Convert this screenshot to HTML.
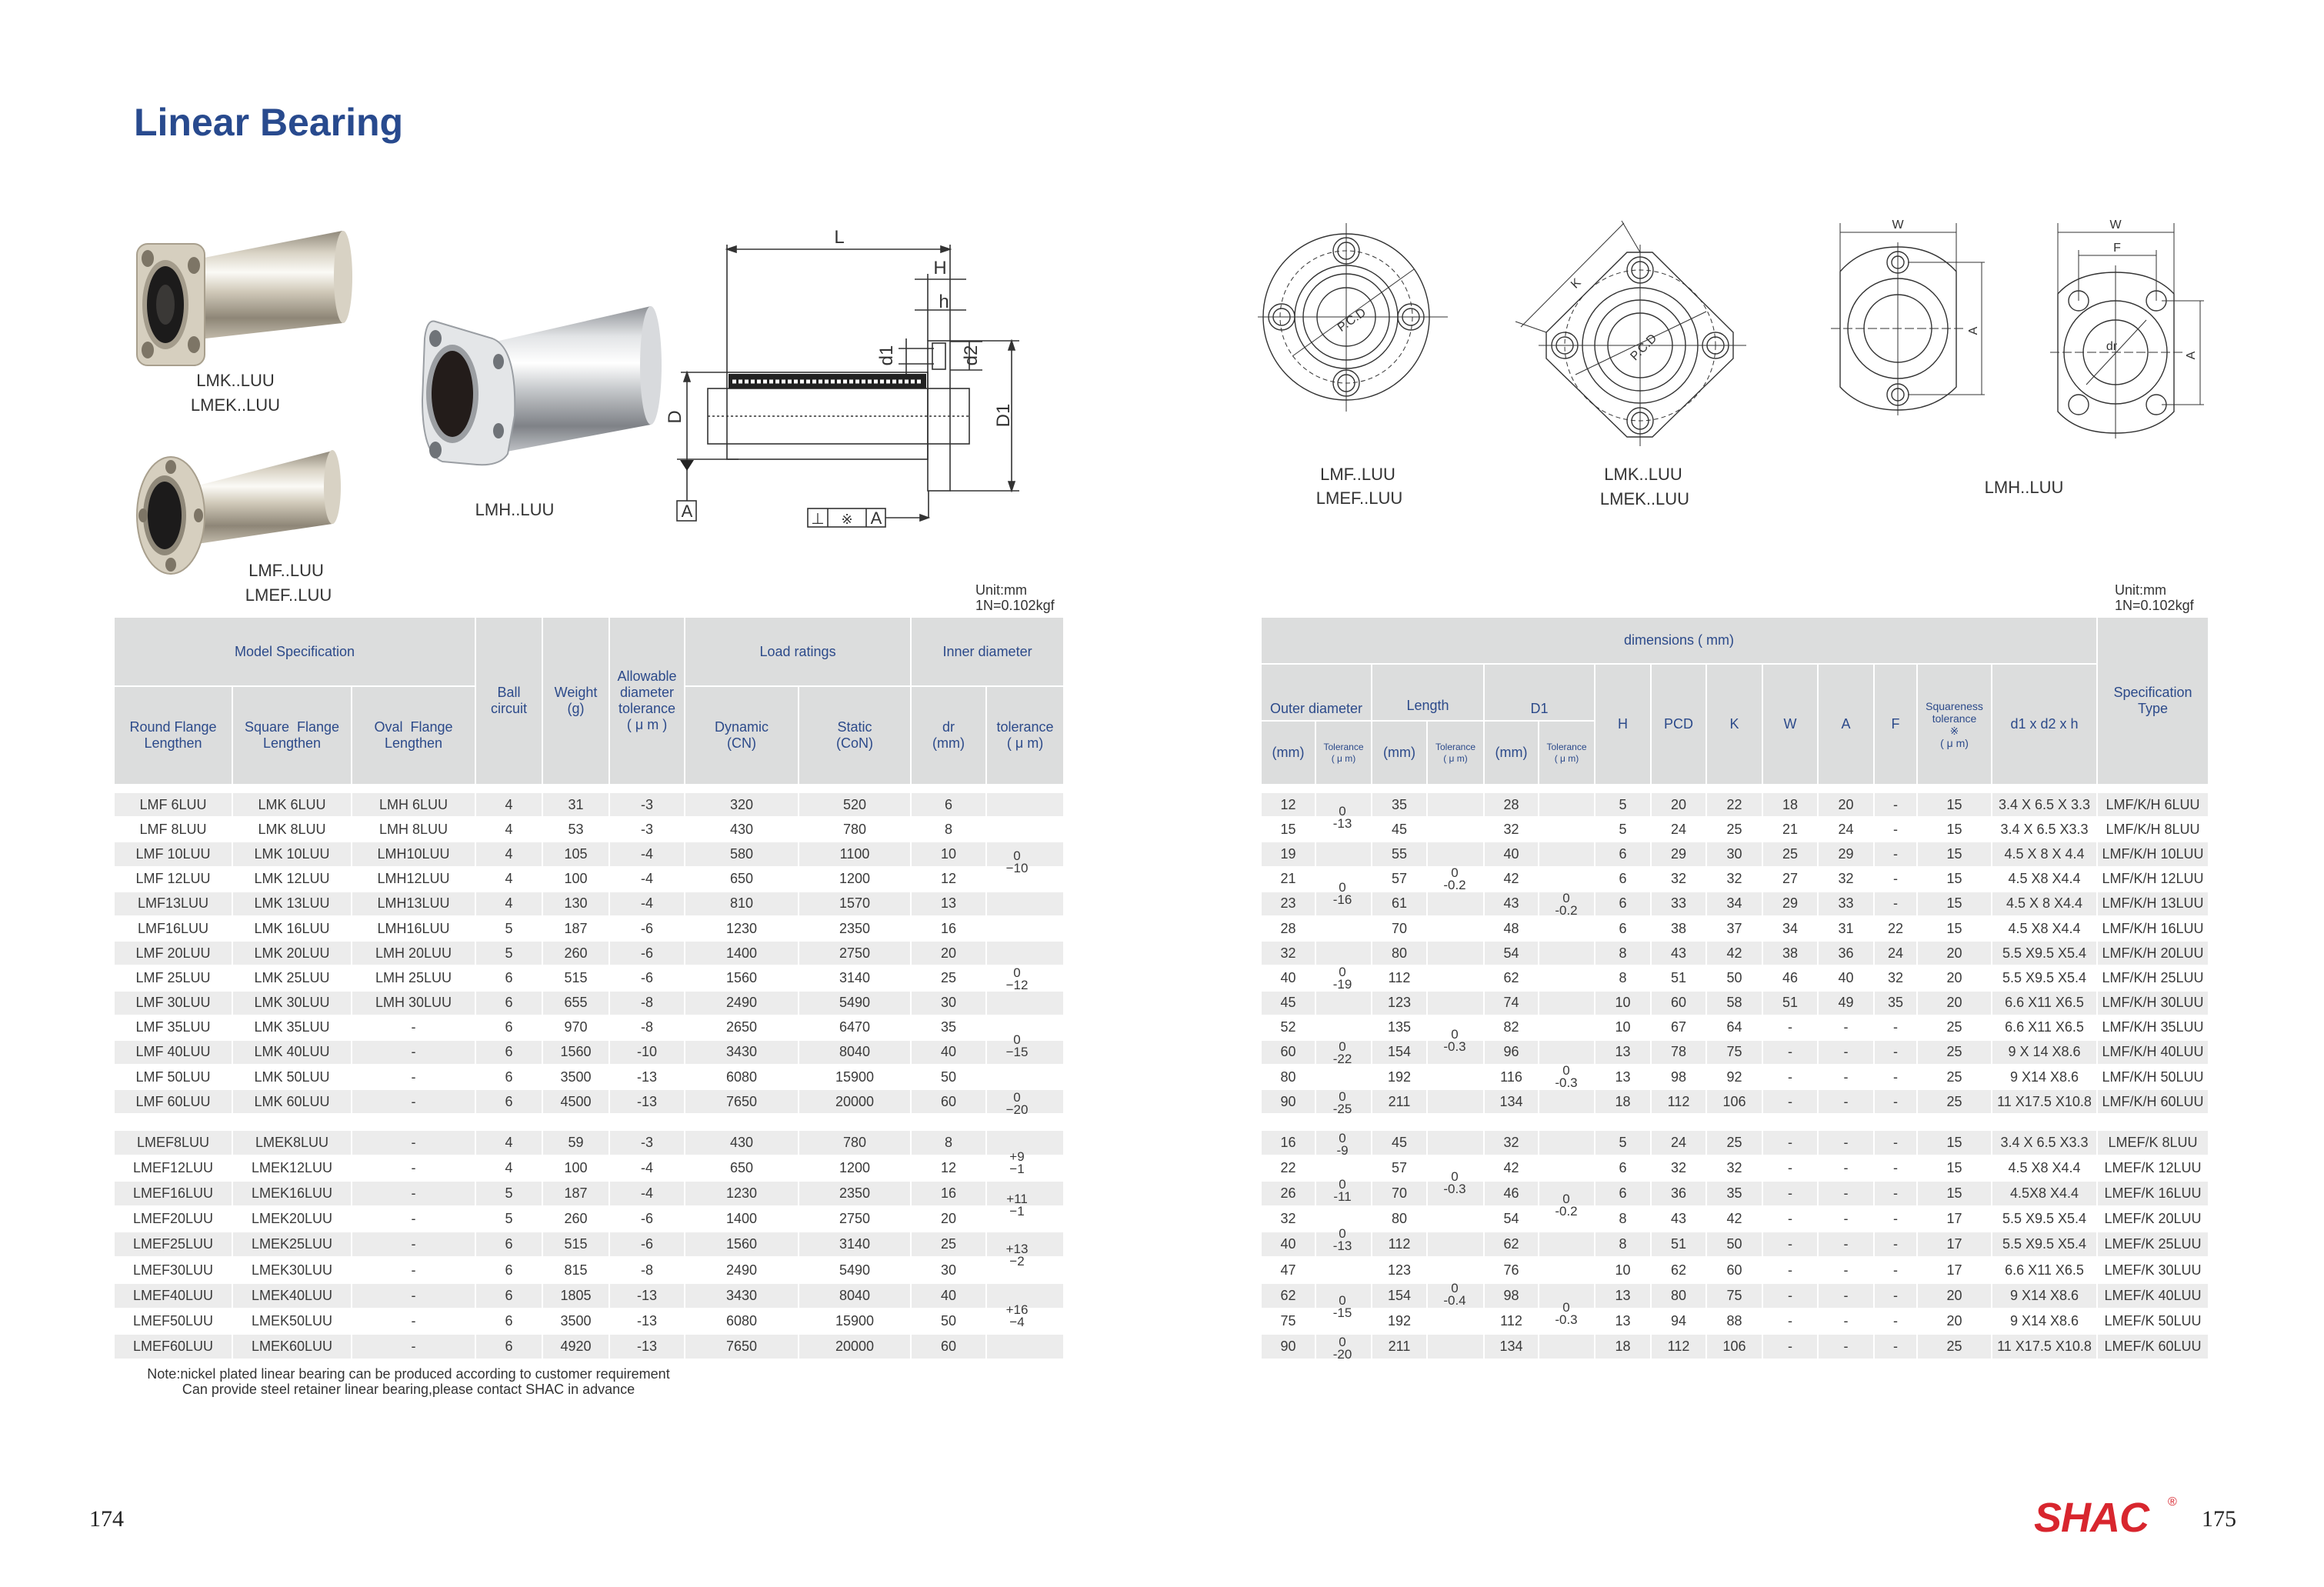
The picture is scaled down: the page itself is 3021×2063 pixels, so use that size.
<!DOCTYPE html>
<html><head><meta charset="utf-8">
<style>
*{margin:0;padding:0;box-sizing:border-box}
body{width:3021px;height:2063px;background:#fff;position:relative;overflow:hidden;font-family:"Liberation Sans",sans-serif;color:#333}
.a{position:absolute;white-space:nowrap}
table{position:absolute;border-collapse:collapse;table-layout:fixed}
td{border:2px solid #fff;text-align:center;vertical-align:middle;padding:0;overflow:hidden;white-space:nowrap}
.h td{background:#dcdddd;color:#2c4a8a;font-size:18px;line-height:21px;white-space:normal}
.b td{font-size:18px;color:#3a3a3a}
tr.g td{background:#ececec}
tr.w td{background:#fff}
.b1 tr{height:32.2px}
.b2 tr{height:33.1px}
.tol{position:absolute;font-size:17px;line-height:16px;text-align:center;color:#3a3a3a;width:60px}
.lb{position:absolute;font-size:22px;color:#333;transform:translateX(-50%);white-space:nowrap}
.sm{font-size:12px !important;line-height:15px !important}
</style></head><body>

<div class="a" style="left:174px;top:130px;font-size:50px;font-weight:bold;color:#284a8e">Linear Bearing</div>

<svg class="a" style="left:0;top:0" width="3021" height="2063" viewBox="0 0 3021 2063">
<defs>
<linearGradient id="bg" x1="0" y1="0" x2="0" y2="1">
<stop offset="0" stop-color="#8f887a"/><stop offset=".2" stop-color="#d9d3c5"/><stop offset=".38" stop-color="#fbfaf6"/><stop offset=".55" stop-color="#d2cbbb"/><stop offset=".8" stop-color="#8e8677"/><stop offset="1" stop-color="#c4bdad"/></linearGradient>
<linearGradient id="cg" x1="0" y1="0" x2="0" y2="1">
<stop offset="0" stop-color="#8d9095"/><stop offset=".2" stop-color="#e2e4e6"/><stop offset=".38" stop-color="#ffffff"/><stop offset=".55" stop-color="#c7cacd"/><stop offset=".8" stop-color="#7f8287"/><stop offset="1" stop-color="#c9ccd0"/></linearGradient>
</defs>
<polygon points="250,338 445,300 445,420 250,442" fill="url(#bg)"/>
<ellipse cx="446" cy="360" rx="12" ry="60" fill="#d8d2c4"/>
<rect x="178" y="317" width="88" height="158" rx="14" fill="#d6cfbf" stroke="#a89f8d" stroke-width="2"/>
<ellipse cx="215" cy="396" rx="30" ry="58" fill="#a49c8c"/>
<ellipse cx="215" cy="396" rx="24" ry="50" fill="#1c1b1b"/>
<ellipse cx="215" cy="396" rx="12" ry="26" fill="#3a3836"/>
<ellipse cx="192" cy="336" rx="8" ry="11" fill="#7d7566"/><ellipse cx="252" cy="345" rx="8" ry="11" fill="#7d7566"/>
<ellipse cx="192" cy="455" rx="8" ry="11" fill="#7d7566"/><ellipse cx="252" cy="448" rx="8" ry="11" fill="#7d7566"/>
<polygon points="250,633 432,586 432,681 250,708" fill="url(#bg)"/>
<ellipse cx="432" cy="633" rx="11" ry="48" fill="#d8d2c4"/>
<ellipse cx="222" cy="670" rx="44" ry="76" fill="#d6cfbf" stroke="#a89f8d" stroke-width="2"/>
<ellipse cx="214" cy="670" rx="28" ry="52" fill="#8f8879"/>
<ellipse cx="214" cy="670" rx="22" ry="44" fill="#1c1b1b"/>
<ellipse cx="222" cy="607" rx="7" ry="9" fill="#7d7566"/><ellipse cx="222" cy="734" rx="7" ry="9" fill="#7d7566"/>
<ellipse cx="186" cy="670" rx="6" ry="9" fill="#7d7566"/><ellipse cx="258" cy="670" rx="6" ry="9" fill="#7d7566"/>
<polygon points="627,448 846,398 846,552 627,593" fill="url(#cg)"/>
<ellipse cx="846" cy="475" rx="14" ry="77" fill="#d8dadd"/>
<path d="M566,418 L640,440 Q672,452 669,540 L660,590 Q650,606 620,604 L575,600 Q549,590 549,520 L552,440 Q555,414 566,418Z" fill="#e4e6e8" stroke="#9a9ea3" stroke-width="2"/>
<ellipse cx="588" cy="512" rx="34" ry="64" fill="#9b9ea2"/>
<ellipse cx="588" cy="512" rx="27" ry="56" fill="#231c1a"/>
<ellipse cx="566" cy="440" rx="8" ry="11" fill="#6f7378"/><ellipse cx="566" cy="585" rx="8" ry="11" fill="#6f7378"/>
<ellipse cx="648" cy="470" rx="7" ry="10" fill="#6f7378"/><ellipse cx="648" cy="560" rx="7" ry="10" fill="#6f7378"/>

<g stroke="#333" stroke-width="1.6" fill="none">
<line x1="945" y1="324" x2="1235" y2="324"/><polygon points="945,324 957,320 957,328" fill="#333"/><polygon points="1235,324 1223,320 1223,328" fill="#333"/>
<line x1="945" y1="318" x2="945" y2="484"/><line x1="1235" y1="318" x2="1235" y2="443"/>
<line x1="1189" y1="363" x2="1256" y2="363"/><line x1="1206" y1="356" x2="1206" y2="443"/>
<line x1="1189" y1="403" x2="1256" y2="403"/>
<rect x="1206" y="443" width="29" height="195"/>
<rect x="1212" y="446" width="17" height="34"/>
<line x1="1168" y1="453" x2="1214" y2="453"/><line x1="1168" y1="473" x2="1214" y2="473"/><line x1="1178" y1="440" x2="1178" y2="486"/>
<line x1="1235" y1="444" x2="1277" y2="444"/><line x1="1235" y1="481" x2="1277" y2="481"/><line x1="1260" y1="444" x2="1260" y2="481"/>
<line x1="1235" y1="443" x2="1325" y2="443"/><line x1="1235" y1="638" x2="1325" y2="638"/><line x1="1315" y1="443" x2="1315" y2="638"/>
<polygon points="1315,443 1311,455 1319,455" fill="#333"/><polygon points="1315,638 1311,626 1319,626" fill="#333"/>
<rect x="945" y="484" width="261" height="113"/>
<rect x="920" y="505" width="340" height="72"/>
<line x1="920" y1="541" x2="1260" y2="541" stroke-dasharray="3,3"/>
<line x1="885" y1="484" x2="945" y2="484"/><line x1="880" y1="597" x2="960" y2="597"/>
<line x1="893" y1="484" x2="893" y2="651"/>
<polygon points="893,484 889,496 897,496" fill="#333"/>
<rect x="880" y="651" width="25" height="26"/>
<rect x="1050" y="661" width="101" height="24"/><line x1="1076" y1="661" x2="1076" y2="685"/><line x1="1126" y1="661" x2="1126" y2="685"/>
<line x1="1151" y1="673" x2="1207" y2="673"/><polygon points="1207,673 1196,669 1196,677" fill="#333"/>
<line x1="1207" y1="638" x2="1207" y2="673"/>
</g>
<polygon points="884,598 902,598 893,612" fill="#222"/>
<rect x="947" y="486" width="257" height="19" fill="#222"/>
<line x1="952" y1="496" x2="1200" y2="496" stroke="#fff" stroke-width="5" stroke-dasharray="5,3"/>
<g font-family="Liberation Sans" font-size="24" fill="#333" text-anchor="middle">
<text x="1091" y="316">L</text><text x="1222" y="356">H</text><text x="1227" y="400">h</text>
<text transform="translate(1160,462) rotate(-90)">d1</text><text transform="translate(1270,462) rotate(-90)">d2</text>
<text transform="translate(1312,540) rotate(-90)">D1</text><text transform="translate(885,542) rotate(-90)">D</text>
<text x="893" y="672" font-size="22">A</text><text x="1063" y="681" font-size="20">⊥</text><text x="1101" y="681" font-size="18">※</text><text x="1139" y="681" font-size="22">A</text>
</g>

<g stroke="#333" stroke-width="1.4" fill="none">
<circle cx="1750" cy="412" r="108"/><circle cx="1750" cy="412" r="67"/><circle cx="1750" cy="412" r="56"/><circle cx="1750" cy="412" r="38"/>
<circle cx="1750" cy="412" r="86" stroke-dasharray="6,4" stroke-width="1"/>
<circle cx="1666" cy="412" r="17"/><circle cx="1666" cy="412" r="11"/><circle cx="1834" cy="412" r="17"/><circle cx="1834" cy="412" r="11"/>
<circle cx="1750" cy="326" r="17"/><circle cx="1750" cy="326" r="11"/><circle cx="1750" cy="498" r="17"/><circle cx="1750" cy="498" r="11"/>
<line x1="1635" y1="412" x2="1882" y2="412" stroke-width="1"/><line x1="1750" y1="290" x2="1750" y2="535" stroke-width="1"/>
<line x1="1680" y1="463" x2="1838" y2="350" stroke-width="1"/>
<polygon points="2115,328 2148,328 2253,432 2253,466 2148,568 2115,568 2010,466 2010,432"/>
<circle cx="2132" cy="449" r="75"/><circle cx="2132" cy="449" r="59"/><circle cx="2132" cy="449" r="42"/>
<circle cx="2132" cy="449" r="98" stroke-dasharray="6,4" stroke-width="1"/>
<circle cx="2132" cy="351" r="17"/><circle cx="2132" cy="351" r="11"/><circle cx="2132" cy="547" r="17"/><circle cx="2132" cy="547" r="11"/>
<circle cx="2034" cy="449" r="17"/><circle cx="2034" cy="449" r="11"/><circle cx="2230" cy="449" r="17"/><circle cx="2230" cy="449" r="11"/>
<line x1="2000" y1="449" x2="2270" y2="449" stroke-width="1"/><line x1="2132" y1="318" x2="2132" y2="580" stroke-width="1"/>
<line x1="1977" y1="425" x2="2111" y2="290" stroke-width="1"/><line x1="1970" y1="418" x2="2010" y2="432" stroke-width="1"/><line x1="2108" y1="287" x2="2132" y2="328" stroke-width="1"/>
<line x1="2048" y1="487" x2="2218" y2="405" stroke-width="1"/>
<path d="M2392,353 Q2420,321 2467,321 Q2514,321 2543,353 L2543,503 Q2514,533 2467,533 Q2420,533 2392,503 Z"/>
<circle cx="2467" cy="427" r="65"/><circle cx="2467" cy="427" r="44"/>
<circle cx="2467" cy="341" r="14"/><circle cx="2467" cy="341" r="8"/><circle cx="2467" cy="513" r="14"/><circle cx="2467" cy="513" r="8"/>
<line x1="2380" y1="427" x2="2555" y2="427" stroke-width="1" stroke-dasharray="12,4"/><line x1="2467" y1="315" x2="2467" y2="540" stroke-width="1"/>
<line x1="2392" y1="302" x2="2543" y2="302" stroke-width="1"/><line x1="2392" y1="290" x2="2392" y2="353" stroke-width="1"/><line x1="2543" y1="290" x2="2543" y2="353" stroke-width="1"/>
<line x1="2480" y1="341" x2="2580" y2="341" stroke-width="1"/><line x1="2480" y1="513" x2="2580" y2="513" stroke-width="1"/><line x1="2576" y1="341" x2="2576" y2="513" stroke-width="1"/>
<path d="M2675,382 Q2700,354 2750,354 Q2800,354 2826,382 L2826,535 Q2800,563 2750,563 Q2700,563 2675,535 Z"/>
<circle cx="2750" cy="458" r="67"/><circle cx="2750" cy="458" r="42"/>
<circle cx="2702" cy="391" r="13"/><circle cx="2803" cy="391" r="13"/><circle cx="2702" cy="526" r="13"/><circle cx="2803" cy="526" r="13"/>
<line x1="2665" y1="458" x2="2840" y2="458" stroke-width="1" stroke-dasharray="12,4"/><line x1="2750" y1="345" x2="2750" y2="570" stroke-width="1"/>
<line x1="2675" y1="302" x2="2826" y2="302" stroke-width="1"/><line x1="2675" y1="290" x2="2675" y2="382" stroke-width="1"/><line x1="2826" y1="290" x2="2826" y2="382" stroke-width="1"/>
<line x1="2702" y1="332" x2="2803" y2="332" stroke-width="1"/><line x1="2702" y1="325" x2="2702" y2="391" stroke-width="1"/><line x1="2803" y1="325" x2="2803" y2="391" stroke-width="1"/>
<line x1="2810" y1="391" x2="2865" y2="391" stroke-width="1"/><line x1="2810" y1="526" x2="2865" y2="526" stroke-width="1"/><line x1="2860" y1="391" x2="2860" y2="526" stroke-width="1"/>
<line x1="2712" y1="500" x2="2790" y2="416" stroke-width="1"/>
</g>
<g font-family="Liberation Sans" font-size="16" fill="#333" text-anchor="middle">
<text transform="translate(1760,420) rotate(-35)">P.C.D</text>
<text transform="translate(2140,455) rotate(-45)">P.C.D</text>
<text transform="translate(2052,372) rotate(-45)">K</text>
<text x="2467" y="297">W</text><text x="2750" y="297">W</text><text x="2752" y="327">F</text><text x="2745" y="455">dr</text>
<text transform="translate(2570,430) rotate(-90)">A</text><text transform="translate(2853,462) rotate(-90)">A</text>
</g>
</svg>

<div class="lb" style="left:306px;top:482px">LMK..LUU</div>
<div class="lb" style="left:306px;top:514px">LMEK..LUU</div>
<div class="lb" style="left:372px;top:729px">LMF..LUU</div>
<div class="lb" style="left:375px;top:761px">LMEF..LUU</div>
<div class="lb" style="left:669px;top:650px">LMH..LUU</div>
<div class="lb" style="left:1765px;top:604px">LMF..LUU</div>
<div class="lb" style="left:1767px;top:635px">LMEF..LUU</div>
<div class="lb" style="left:2136px;top:604px">LMK..LUU</div>
<div class="lb" style="left:2138px;top:636px">LMEK..LUU</div>
<div class="lb" style="left:2631px;top:621px">LMH..LUU</div>

<div class="a" style="left:1268px;top:757px;font-size:18px;line-height:20px">Unit:mm<br>1N=0.102kgf</div>
<div class="a" style="left:2749px;top:757px;font-size:18px;line-height:20px">Unit:mm<br>1N=0.102kgf</div>

<table class="h" style="left:147px;top:801px;width:1235px">
<colgroup><col style="width:154px"><col style="width:155px"><col style="width:161px"><col style="width:87px"><col style="width:87px"><col style="width:98px"><col style="width:148px"><col style="width:146px"><col style="width:98px"><col style="width:101px"></colgroup>
<tr style="height:90px"><td colspan="3">Model Specification</td><td rowspan="2">Ball<br>circuit</td><td rowspan="2">Weight<br>(g)</td><td rowspan="2">Allowable<br>diameter<br>tolerance<br>( μ m )</td><td colspan="2">Load ratings</td><td colspan="2">Inner diameter</td></tr>
<tr style="height:128px"><td>Round Flange<br>Lengthen</td><td>Square&nbsp; Flange<br>Lengthen</td><td>Oval&nbsp; Flange<br>Lengthen</td><td>Dynamic<br>(CN)</td><td>Static<br>(CoN)</td><td>dr<br>(mm)</td><td>tolerance<br>( μ m)</td></tr>
</table>

<table class="b b1" style="left:147px;top:1029px;width:1235px">
<colgroup><col style="width:154px"><col style="width:155px"><col style="width:161px"><col style="width:87px"><col style="width:87px"><col style="width:98px"><col style="width:148px"><col style="width:146px"><col style="width:98px"><col style="width:101px"></colgroup>
<tr class="g"><td>LMF 6LUU<td>LMK 6LUU<td>LMH 6LUU<td>4<td>31<td>-3<td>320<td>520<td>6<td></tr>
<tr class="w"><td>LMF 8LUU<td>LMK 8LUU<td>LMH 8LUU<td>4<td>53<td>-3<td>430<td>780<td>8<td></tr>
<tr class="g"><td>LMF 10LUU<td>LMK 10LUU<td>LMH10LUU<td>4<td>105<td>-4<td>580<td>1100<td>10<td></tr>
<tr class="w"><td>LMF 12LUU<td>LMK 12LUU<td>LMH12LUU<td>4<td>100<td>-4<td>650<td>1200<td>12<td></tr>
<tr class="g"><td>LMF13LUU<td>LMK 13LUU<td>LMH13LUU<td>4<td>130<td>-4<td>810<td>1570<td>13<td></tr>
<tr class="w"><td>LMF16LUU<td>LMK 16LUU<td>LMH16LUU<td>5<td>187<td>-6<td>1230<td>2350<td>16<td></tr>
<tr class="g"><td>LMF 20LUU<td>LMK 20LUU<td>LMH 20LUU<td>5<td>260<td>-6<td>1400<td>2750<td>20<td></tr>
<tr class="w"><td>LMF 25LUU<td>LMK 25LUU<td>LMH 25LUU<td>6<td>515<td>-6<td>1560<td>3140<td>25<td></tr>
<tr class="g"><td>LMF 30LUU<td>LMK 30LUU<td>LMH 30LUU<td>6<td>655<td>-8<td>2490<td>5490<td>30<td></tr>
<tr class="w"><td>LMF 35LUU<td>LMK 35LUU<td>-<td>6<td>970<td>-8<td>2650<td>6470<td>35<td></tr>
<tr class="g"><td>LMF 40LUU<td>LMK 40LUU<td>-<td>6<td>1560<td>-10<td>3430<td>8040<td>40<td></tr>
<tr class="w"><td>LMF 50LUU<td>LMK 50LUU<td>-<td>6<td>3500<td>-13<td>6080<td>15900<td>50<td></tr>
<tr class="g"><td>LMF 60LUU<td>LMK 60LUU<td>-<td>6<td>4500<td>-13<td>7650<td>20000<td>60<td></tr>
</table>

<table class="b b2" style="left:147px;top:1468px;width:1235px">
<colgroup><col style="width:154px"><col style="width:155px"><col style="width:161px"><col style="width:87px"><col style="width:87px"><col style="width:98px"><col style="width:148px"><col style="width:146px"><col style="width:98px"><col style="width:101px"></colgroup>
<tr class="g"><td>LMEF8LUU<td>LMEK8LUU<td>-<td>4<td>59<td>-3<td>430<td>780<td>8<td></tr>
<tr class="w"><td>LMEF12LUU<td>LMEK12LUU<td>-<td>4<td>100<td>-4<td>650<td>1200<td>12<td></tr>
<tr class="g"><td>LMEF16LUU<td>LMEK16LUU<td>-<td>5<td>187<td>-4<td>1230<td>2350<td>16<td></tr>
<tr class="w"><td>LMEF20LUU<td>LMEK20LUU<td>-<td>5<td>260<td>-6<td>1400<td>2750<td>20<td></tr>
<tr class="g"><td>LMEF25LUU<td>LMEK25LUU<td>-<td>6<td>515<td>-6<td>1560<td>3140<td>25<td></tr>
<tr class="w"><td>LMEF30LUU<td>LMEK30LUU<td>-<td>6<td>815<td>-8<td>2490<td>5490<td>30<td></tr>
<tr class="g"><td>LMEF40LUU<td>LMEK40LUU<td>-<td>6<td>1805<td>-13<td>3430<td>8040<td>40<td></tr>
<tr class="w"><td>LMEF50LUU<td>LMEK50LUU<td>-<td>6<td>3500<td>-13<td>6080<td>15900<td>50<td></tr>
<tr class="g"><td>LMEF60LUU<td>LMEK60LUU<td>-<td>6<td>4920<td>-13<td>7650<td>20000<td>60<td></tr>
</table>

<div class="tol" style="left:1292px;top:1105px">0<br>−10</div>
<div class="tol" style="left:1292px;top:1257px">0<br>−12</div>
<div class="tol" style="left:1292px;top:1344px">0<br>−15</div>
<div class="tol" style="left:1292px;top:1419px">0<br>−20</div>
<div class="tol" style="left:1292px;top:1496px">+9<br>−1</div>
<div class="tol" style="left:1292px;top:1551px">+11<br>−1</div>
<div class="tol" style="left:1292px;top:1616px">+13<br>−2</div>
<div class="tol" style="left:1292px;top:1695px">+16<br>−4</div>

<div class="a" style="left:170px;top:1776px;font-size:18px;line-height:20px;text-align:center;width:722px">Note:nickel plated linear bearing can be produced according to customer requirement<br>Can provide steel retainer linear bearing,please contact SHAC in advance</div>

<table class="h" style="left:1638px;top:801px;width:1232px">
<colgroup><col style="width:71px"><col style="width:73px"><col style="width:72px"><col style="width:74px"><col style="width:71px"><col style="width:73px"><col style="width:73px"><col style="width:72px"><col style="width:73px"><col style="width:72px"><col style="width:73px"><col style="width:56px"><col style="width:97px"><col style="width:137px"><col style="width:145px"></colgroup>
<tr style="height:61px"><td colspan="14">dimensions ( mm)</td><td rowspan="3">Specification<br>Type</td></tr>
<tr style="height:74px"><td colspan="2" style="vertical-align:bottom;padding-bottom:4px">Outer diameter</td><td colspan="2" style="vertical-align:bottom;padding-bottom:8px">Length</td><td colspan="2" style="vertical-align:bottom;padding-bottom:4px">D1</td><td rowspan="2">H</td><td rowspan="2">PCD</td><td rowspan="2">K</td><td rowspan="2">W</td><td rowspan="2">A</td><td rowspan="2">F</td><td rowspan="2" class="sm" style="font-size:14px!important;line-height:16px!important">Squareness<br>tolerance<br>※<br>( μ m)</td><td rowspan="2">d1 x d2 x h</td></tr>
<tr style="height:83px"><td style="border-top-color:#dcdddd">(mm)</td><td class="sm">Tolerance<br>( μ m)</td><td style="border-top-color:#dcdddd">(mm)</td><td class="sm">Tolerance<br>( μ m)</td><td style="border-top-color:#dcdddd">(mm)</td><td class="sm">Tolerance<br>( μ m)</td></tr>
</table>

<table class="b b1" style="left:1638px;top:1029px;width:1232px">
<colgroup><col style="width:71px"><col style="width:73px"><col style="width:72px"><col style="width:74px"><col style="width:71px"><col style="width:73px"><col style="width:73px"><col style="width:72px"><col style="width:73px"><col style="width:72px"><col style="width:73px"><col style="width:56px"><col style="width:97px"><col style="width:137px"><col style="width:145px"></colgroup>
<tr class="g"><td>12<td><td>35<td><td>28<td><td>5<td>20<td>22<td>18<td>20<td>-<td>15<td>3.4 X 6.5 X 3.3<td>LMF/K/H 6LUU</tr>
<tr class="w"><td>15<td><td>45<td><td>32<td><td>5<td>24<td>25<td>21<td>24<td>-<td>15<td>3.4 X 6.5 X3.3<td>LMF/K/H 8LUU</tr>
<tr class="g"><td>19<td><td>55<td><td>40<td><td>6<td>29<td>30<td>25<td>29<td>-<td>15<td>4.5 X 8 X 4.4<td>LMF/K/H 10LUU</tr>
<tr class="w"><td>21<td><td>57<td><td>42<td><td>6<td>32<td>32<td>27<td>32<td>-<td>15<td>4.5 X8 X4.4<td>LMF/K/H 12LUU</tr>
<tr class="g"><td>23<td><td>61<td><td>43<td><td>6<td>33<td>34<td>29<td>33<td>-<td>15<td>4.5 X 8 X4.4<td>LMF/K/H 13LUU</tr>
<tr class="w"><td>28<td><td>70<td><td>48<td><td>6<td>38<td>37<td>34<td>31<td>22<td>15<td>4.5 X8 X4.4<td>LMF/K/H 16LUU</tr>
<tr class="g"><td>32<td><td>80<td><td>54<td><td>8<td>43<td>42<td>38<td>36<td>24<td>20<td>5.5 X9.5 X5.4<td>LMF/K/H 20LUU</tr>
<tr class="w"><td>40<td><td>112<td><td>62<td><td>8<td>51<td>50<td>46<td>40<td>32<td>20<td>5.5 X9.5 X5.4<td>LMF/K/H 25LUU</tr>
<tr class="g"><td>45<td><td>123<td><td>74<td><td>10<td>60<td>58<td>51<td>49<td>35<td>20<td>6.6 X11 X6.5<td>LMF/K/H 30LUU</tr>
<tr class="w"><td>52<td><td>135<td><td>82<td><td>10<td>67<td>64<td>-<td>-<td>-<td>25<td>6.6 X11 X6.5<td>LMF/K/H 35LUU</tr>
<tr class="g"><td>60<td><td>154<td><td>96<td><td>13<td>78<td>75<td>-<td>-<td>-<td>25<td>9 X 14 X8.6<td>LMF/K/H 40LUU</tr>
<tr class="w"><td>80<td><td>192<td><td>116<td><td>13<td>98<td>92<td>-<td>-<td>-<td>25<td>9 X14 X8.6<td>LMF/K/H 50LUU</tr>
<tr class="g"><td>90<td><td>211<td><td>134<td><td>18<td>112<td>106<td>-<td>-<td>-<td>25<td>11 X17.5 X10.8<td>LMF/K/H 60LUU</tr>
</table>

<table class="b b2" style="left:1638px;top:1468px;width:1232px">
<colgroup><col style="width:71px"><col style="width:73px"><col style="width:72px"><col style="width:74px"><col style="width:71px"><col style="width:73px"><col style="width:73px"><col style="width:72px"><col style="width:73px"><col style="width:72px"><col style="width:73px"><col style="width:56px"><col style="width:97px"><col style="width:137px"><col style="width:145px"></colgroup>
<tr class="g"><td>16<td><td>45<td><td>32<td><td>5<td>24<td>25<td>-<td>-<td>-<td>15<td>3.4 X 6.5 X3.3<td>LMEF/K 8LUU</tr>
<tr class="w"><td>22<td><td>57<td><td>42<td><td>6<td>32<td>32<td>-<td>-<td>-<td>15<td>4.5 X8 X4.4<td>LMEF/K 12LUU</tr>
<tr class="g"><td>26<td><td>70<td><td>46<td><td>6<td>36<td>35<td>-<td>-<td>-<td>15<td>4.5X8 X4.4<td>LMEF/K 16LUU</tr>
<tr class="w"><td>32<td><td>80<td><td>54<td><td>8<td>43<td>42<td>-<td>-<td>-<td>17<td>5.5 X9.5 X5.4<td>LMEF/K 20LUU</tr>
<tr class="g"><td>40<td><td>112<td><td>62<td><td>8<td>51<td>50<td>-<td>-<td>-<td>17<td>5.5 X9.5 X5.4<td>LMEF/K 25LUU</tr>
<tr class="w"><td>47<td><td>123<td><td>76<td><td>10<td>62<td>60<td>-<td>-<td>-<td>17<td>6.6 X11 X6.5<td>LMEF/K 30LUU</tr>
<tr class="g"><td>62<td><td>154<td><td>98<td><td>13<td>80<td>75<td>-<td>-<td>-<td>20<td>9 X14 X8.6<td>LMEF/K 40LUU</tr>
<tr class="w"><td>75<td><td>192<td><td>112<td><td>13<td>94<td>88<td>-<td>-<td>-<td>20<td>9 X14 X8.6<td>LMEF/K 50LUU</tr>
<tr class="g"><td>90<td><td>211<td><td>134<td><td>18<td>112<td>106<td>-<td>-<td>-<td>25<td>11 X17.5 X10.8<td>LMEF/K 60LUU</tr>
</table>

<div class="tol" style="left:1715px;top:1047px">0<br>-13</div>
<div class="tol" style="left:1715px;top:1146px">0<br>-16</div>
<div class="tol" style="left:1715px;top:1256px">0<br>-19</div>
<div class="tol" style="left:1715px;top:1353px">0<br>-22</div>
<div class="tol" style="left:1715px;top:1418px">0<br>-25</div>
<div class="tol" style="left:1861px;top:1127px">0<br>-0.2</div>
<div class="tol" style="left:1861px;top:1337px">0<br>-0.3</div>
<div class="tol" style="left:2006px;top:1160px">0<br>-0.2</div>
<div class="tol" style="left:2006px;top:1384px">0<br>-0.3</div>
<div class="tol" style="left:1715px;top:1472px">0<br>-9</div>
<div class="tol" style="left:1715px;top:1532px">0<br>-11</div>
<div class="tol" style="left:1715px;top:1596px">0<br>-13</div>
<div class="tol" style="left:1715px;top:1683px">0<br>-15</div>
<div class="tol" style="left:1715px;top:1737px">0<br>-20</div>
<div class="tol" style="left:1861px;top:1522px">0<br>-0.3</div>
<div class="tol" style="left:1861px;top:1667px">0<br>-0.4</div>
<div class="tol" style="left:2006px;top:1551px">0<br>-0.2</div>
<div class="tol" style="left:2006px;top:1692px">0<br>-0.3</div>

<div class="a" style="left:116px;top:1958px;font-family:'Liberation Serif',serif;font-size:30px;color:#222">174</div>
<div class="a" style="left:2862px;top:1958px;font-family:'Liberation Serif',serif;font-size:30px;color:#222">175</div>
<div class="a" style="left:2644px;top:1942px;font-size:54px;font-weight:bold;font-style:italic;color:#d8262e;letter-spacing:-1px">SHAC</div>
<div class="a" style="left:2818px;top:1944px;font-size:16px;color:#d8262e">®</div>
</body></html>
